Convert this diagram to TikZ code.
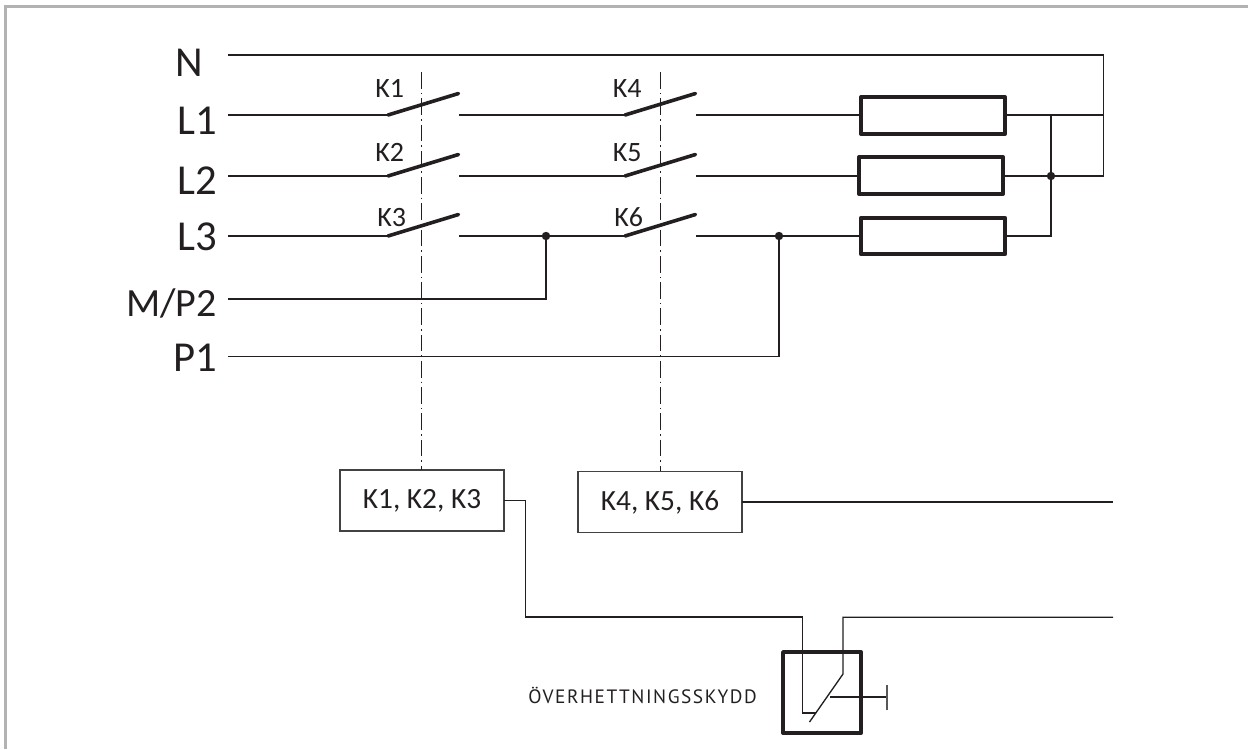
\documentclass[tikz,border=0pt]{standalone}
\usepackage{fontspec}
\setmainfont{Carlito}
\newfontfamily\din[LetterSpace=8]{PT Sans}
\definecolor{ink}{HTML}{231F20}
\definecolor{framegray}{HTML}{B2B2B5}
\tikzset{
  x=0.75pt, y=-0.75pt,
  wire/.style={draw=ink, line width=1pt, line join=miter},
  blade/.style={draw=ink, line width=2.7pt, line cap=round},
  axis/.style={draw=ink, line width=0.7pt, dash pattern=on 12.5pt off 3pt on 1.2pt off 3pt},
  load/.style={draw=ink, line width=2.9pt, line join=round, fill=white, minimum width=108pt, minimum height=27.5pt, inner sep=0pt, outer sep=0pt},
  relay/.style={draw=ink!85, line width=1.1pt, minimum width=123pt, minimum height=46pt, inner sep=0pt, outer sep=0pt, font=\fontsize{22}{24}\selectfont, text=ink},
  thermo/.style={draw=ink, line width=2.9pt, line join=round, minimum width=58.5pt, minimum height=60.75pt, inner sep=0pt, outer sep=0pt},
  phase/.style={anchor=base east, inner sep=0pt, text=ink, font=\fontsize{32}{36}\selectfont},
  tag/.style={anchor=base west, inner sep=0pt, text=ink, font=\fontsize{21}{24}\selectfont},
  joint/.style={circle, fill=ink, inner sep=0pt, minimum size=6.3pt},
}
\begin{document}
\begin{tikzpicture}
\useasboundingbox (0,0) rectangle (1248,749);
\draw[framegray, line width=1.9pt] (5.3,749) -- (5.3,6.3) -- (1248,6.3);

% phase labels
\node[phase] (lN)  at (203,76)  {N};
\node[phase] (lL1) at (217,134) {L1};
\node[phase] (lL2) at (217,194) {L2};
\node[phase] (lL3) at (217,250) {L3};
\node[phase, font=\fontsize{30}{36}\selectfont] (lM)  at (217,316) {M/P2};
\node[phase] (lP)  at (217,371) {P1};

% free ends of the wires at the left
\coordinate (wN) at (228,55);
\coordinate (w1) at (228,115);
\coordinate (w2) at (228,176);
\coordinate (w3) at (228,236);
\coordinate (wM) at (228,299);
\coordinate (wP) at (228,356.2);

% switch contacts
\foreach \n/\y in {1/115,2/176,3/236}{
  \coordinate (a\n) at (388,\y);
  \coordinate (b\n) at (458.5,\y-21.5);
  \coordinate (c\n) at (459,\y);
  \coordinate (d\n) at (625,\y);
  \coordinate (e\n) at (695.5,\y-21.5);
  \coordinate (f\n) at (696,\y);
}
% loads
\node[load] (R1) at (933,115.5) {};
\node[load] (R2) at (931,175.5) {};
\node[load] (R3) at (933,236) {};
% relays
\node[relay] (K123) at (422,500.5) {\raisebox{-2pt}{K1, K2, K3}};
\node[relay] (K456) at (660,502) {\raisebox{-2pt}{K4, K5, K6}};
% thermal switch box
\node[thermo] (TH) at (822,692.5) {};
% axes tops
\coordinate (t1) at (421,72);
\coordinate (t2) at (660,72);
% junctions
\node[joint] (j1) at (546,236) {};
\node[joint] (j2) at (779,236) {};
\node[joint] (j3) at (1051,176) {};
\coordinate (corner) at (1103.5,55);
\coordinate (r1end) at (1103.5,115);
\coordinate (r2end) at (1103.5,176);

% axes
\draw[axis] (t1) -- (t1 |- K123.north);
\draw[axis] (t2) -- (t2 |- K456.north);

% wires
\draw[wire] (wN) -- (corner) -- (r2end) -- (j3) -- (R2.east |- j3);
\draw[wire] (R1.east |- r1end) -- (r1end);
\draw[wire] (R3.east) -| (j3);
\draw[wire] (j3) -- (j3 |- r1end);
\foreach \n in {1,2,3}{
  \draw[wire] (w\n) -- (a\n);
  \draw[wire] (c\n) -- (d\n);
  \draw[blade] (a\n) -- (b\n);
  \draw[blade] (d\n) -- (e\n);
}
\draw[wire] (f1) -- (R1.west |- f1);
\draw[wire] (f2) -- (R2.west |- f2);
\draw[wire] (f3) -- (R3.west);
\draw[wire] (wM) -| (j1);
\draw[wire] (wP) -| (j2);

% switch tags
\node[tag] (k1) at (375,98) {K1};
\node[tag] (k2) at (375,161.5) {K2};
\node[tag] (k3) at (377,226) {K3};
\node[tag] (k4) at (612.5,98) {K4};
\node[tag] (k5) at (612.5,161.5) {K5};
\node[tag] (k6) at (614,226) {K6};

% control wiring
\coordinate (bend) at (525.5,617);
\coordinate (bin) at (802.5,617);
\coordinate (bot) at (802.5,713);
\coordinate (foot) at (816,713);
\coordinate (bout) at (843,617.3);
\coordinate (tip) at (843,674);
\coordinate (blow) at (809.5,722);
\coordinate (lever) at (830,697);
\coordinate (stop) at (887,697);
\coordinate (stopu) at (887,685);
\coordinate (stopd) at (887,710);
\coordinate (e1) at (1113,617.3);
\coordinate (e2) at (1113,501);
\draw[wire] (K123.east) -| (bend) -- (bin) -- (bot) -- (foot);
\draw[wire] (e1) -- (bout) -- (tip) -- (blow);
\draw[wire] (lever) -- (stop);
\draw[wire, draw=ink!75, line width=1.4pt] (stopu) -- (stopd);
\draw[wire] (K456.east) -- (K456.east -| e2);

\node[anchor=base east, inner sep=0pt, text=ink, font=\din\fontsize{14.5}{16}\selectfont] (lbl) at (757,703) {ÖVERHETTNINGSSKYDD};
\end{tikzpicture}
\end{document}
